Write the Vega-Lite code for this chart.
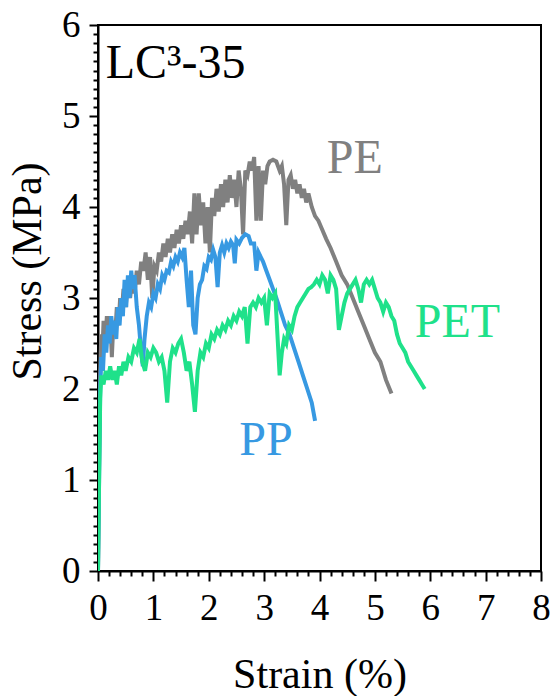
{
  "$schema": "https://vega.github.io/schema/vega-lite/v6.json",
  "width": 443,
  "height": 546,
  "autosize": {"type": "none"},
  "padding": {"left": 98, "top": 25, "right": 12, "bottom": 125},
  "background": "white",
  "view": {"stroke": "black", "strokeWidth": 2},
  "config": {
    "axis": {
      "domainColor": "black", "domainWidth": 2, "tickColor": "black", "tickWidth": 2,
      "labelColor": "black", "titleColor": "black", "labelFont": "Liberation Serif",
      "titleFont": "Liberation Serif", "titleFontWeight": "normal", "grid": false,
      "labelFontSize": 37, "titleFontSize": 42, "labelOverlap": false, "labelFlush": false
    }
  },
  "resolve": {"axis": {"x": "independent", "y": "independent"}},
  "datasets": {
    "curves": [
      {"s":"PE","x":0,"y":0},{"s":"PE","x":0.02,"y":1.2},{"s":"PE","x":0.04,"y":2.2},{"s":"PE","x":0.06,"y":2.6},{"s":"PE","x":0.08,"y":2.4},{"s":"PE","x":0.10,"y":2.75},{"s":"PE","x":0.13,"y":2.5},{"s":"PE","x":0.16,"y":2.8},{"s":"PE","x":0.19,"y":2.55},{"s":"PE","x":0.22,"y":2.8},{"s":"PE","x":0.25,"y":2.35},{"s":"PE","x":0.28,"y":2.75},{"s":"PE","x":0.31,"y":2.6},{"s":"PE","x":0.34,"y":2.9},{"s":"PE","x":0.37,"y":2.7},{"s":"PE","x":0.40,"y":3.0},{"s":"PE","x":0.43,"y":2.85},{"s":"PE","x":0.46,"y":3.1},{"s":"PE","x":0.50,"y":2.9},{"s":"PE","x":0.54,"y":3.2},{"s":"PE","x":0.58,"y":3.0},{"s":"PE","x":0.62,"y":3.25},{"s":"PE","x":0.66,"y":3.05},{"s":"PE","x":0.70,"y":3.3},{"s":"PE","x":0.74,"y":3.15},{"s":"PE","x":0.78,"y":3.4},{"s":"PE","x":0.82,"y":3.3},{"s":"PE","x":0.86,"y":3.5},{"s":"PE","x":0.90,"y":3.2},{"s":"PE","x":0.94,"y":3.45},{"s":"PE","x":0.98,"y":3.0},{"s":"PE","x":1.02,"y":3.35},{"s":"PE","x":1.06,"y":3.3},{"s":"PE","x":1.10,"y":3.5},{"s":"PE","x":1.14,"y":3.4},{"s":"PE","x":1.18,"y":3.6},{"s":"PE","x":1.22,"y":3.45},{"s":"PE","x":1.26,"y":3.65},{"s":"PE","x":1.30,"y":3.5},{"s":"PE","x":1.34,"y":3.7},{"s":"PE","x":1.38,"y":3.55},{"s":"PE","x":1.42,"y":3.75},{"s":"PE","x":1.46,"y":3.6},{"s":"PE","x":1.50,"y":3.8},{"s":"PE","x":1.54,"y":3.65},{"s":"PE","x":1.58,"y":3.85},{"s":"PE","x":1.62,"y":3.7},{"s":"PE","x":1.66,"y":3.95},{"s":"PE","x":1.70,"y":3.6},{"s":"PE","x":1.74,"y":4.15},{"s":"PE","x":1.78,"y":3.7},{"s":"PE","x":1.82,"y":4.15},{"s":"PE","x":1.86,"y":3.8},{"s":"PE","x":1.90,"y":4.05},{"s":"PE","x":1.94,"y":3.6},{"s":"PE","x":1.98,"y":4.0},{"s":"PE","x":2.02,"y":3.5},{"s":"PE","x":2.06,"y":4.1},{"s":"PE","x":2.10,"y":3.9},{"s":"PE","x":2.14,"y":4.2},{"s":"PE","x":2.18,"y":3.95},{"s":"PE","x":2.22,"y":4.25},{"s":"PE","x":2.26,"y":4.0},{"s":"PE","x":2.30,"y":4.3},{"s":"PE","x":2.34,"y":4.05},{"s":"PE","x":2.38,"y":4.35},{"s":"PE","x":2.42,"y":4.1},{"s":"PE","x":2.46,"y":4.3},{"s":"PE","x":2.50,"y":4.0},{"s":"PE","x":2.54,"y":4.4},{"s":"PE","x":2.58,"y":4.2},{"s":"PE","x":2.62,"y":3.7},{"s":"PE","x":2.66,"y":4.4},{"s":"PE","x":2.70,"y":4.35},{"s":"PE","x":2.74,"y":4.5},{"s":"PE","x":2.78,"y":4.4},{"s":"PE","x":2.82,"y":4.55},{"s":"PE","x":2.86,"y":3.85},{"s":"PE","x":2.90,"y":4.45},{"s":"PE","x":2.94,"y":3.85},{"s":"PE","x":2.98,"y":4.4},{"s":"PE","x":3.02,"y":4.25},{"s":"PE","x":3.06,"y":4.45},{"s":"PE","x":3.10,"y":4.5},{"s":"PE","x":3.16,"y":4.52},{"s":"PE","x":3.22,"y":4.5},{"s":"PE","x":3.28,"y":4.4},{"s":"PE","x":3.32,"y":4.45},{"s":"PE","x":3.36,"y":4.25},{"s":"PE","x":3.40,"y":3.8},{"s":"PE","x":3.44,"y":4.3},{"s":"PE","x":3.48,"y":4.35},{"s":"PE","x":3.52,"y":4.2},{"s":"PE","x":3.56,"y":4.3},{"s":"PE","x":3.60,"y":4.15},{"s":"PE","x":3.64,"y":4.25},{"s":"PE","x":3.68,"y":4.1},{"s":"PE","x":3.72,"y":4.2},{"s":"PE","x":3.76,"y":4.05},{"s":"PE","x":3.80,"y":4.15},{"s":"PE","x":3.86,"y":4.0},{"s":"PE","x":3.92,"y":3.9},{"s":"PE","x":3.98,"y":3.85},{"s":"PE","x":4.05,"y":3.75},{"s":"PE","x":4.12,"y":3.65},{"s":"PE","x":4.20,"y":3.55},{"s":"PE","x":4.30,"y":3.4},{"s":"PE","x":4.40,"y":3.25},{"s":"PE","x":4.50,"y":3.15},{"s":"PE","x":4.60,"y":3.0},{"s":"PE","x":4.70,"y":2.85},{"s":"PE","x":4.80,"y":2.7},{"s":"PE","x":4.90,"y":2.55},{"s":"PE","x":5.00,"y":2.4},{"s":"PE","x":5.10,"y":2.3},{"s":"PE","x":5.20,"y":2.1},{"s":"PE","x":5.30,"y":1.95},
      {"s":"PP","x":0,"y":0},{"s":"PP","x":0.02,"y":1.0},{"s":"PP","x":0.04,"y":2.0},{"s":"PP","x":0.06,"y":2.35},{"s":"PP","x":0.09,"y":2.2},{"s":"PP","x":0.12,"y":2.6},{"s":"PP","x":0.15,"y":2.4},{"s":"PP","x":0.18,"y":2.7},{"s":"PP","x":0.21,"y":2.5},{"s":"PP","x":0.24,"y":2.8},{"s":"PP","x":0.27,"y":2.6},{"s":"PP","x":0.30,"y":2.75},{"s":"PP","x":0.33,"y":2.55},{"s":"PP","x":0.36,"y":2.9},{"s":"PP","x":0.39,"y":2.7},{"s":"PP","x":0.42,"y":3.0},{"s":"PP","x":0.45,"y":2.8},{"s":"PP","x":0.48,"y":3.2},{"s":"PP","x":0.51,"y":2.9},{"s":"PP","x":0.54,"y":3.25},{"s":"PP","x":0.57,"y":3.0},{"s":"PP","x":0.60,"y":3.3},{"s":"PP","x":0.63,"y":3.1},{"s":"PP","x":0.66,"y":3.25},{"s":"PP","x":0.70,"y":2.9},{"s":"PP","x":0.74,"y":2.7},{"s":"PP","x":0.78,"y":2.4},{"s":"PP","x":0.81,"y":2.25},{"s":"PP","x":0.84,"y":2.55},{"s":"PP","x":0.88,"y":2.8},{"s":"PP","x":0.92,"y":2.95},{"s":"PP","x":0.96,"y":2.9},{"s":"PP","x":1.00,"y":3.05},{"s":"PP","x":1.04,"y":3.0},{"s":"PP","x":1.08,"y":3.15},{"s":"PP","x":1.12,"y":3.1},{"s":"PP","x":1.16,"y":3.25},{"s":"PP","x":1.20,"y":3.2},{"s":"PP","x":1.24,"y":3.3},{"s":"PP","x":1.28,"y":3.28},{"s":"PP","x":1.32,"y":3.4},{"s":"PP","x":1.36,"y":3.35},{"s":"PP","x":1.40,"y":3.45},{"s":"PP","x":1.44,"y":3.4},{"s":"PP","x":1.48,"y":3.5},{"s":"PP","x":1.52,"y":3.45},{"s":"PP","x":1.56,"y":3.55},{"s":"PP","x":1.60,"y":3.2},{"s":"PP","x":1.64,"y":2.9},{"s":"PP","x":1.68,"y":3.3},{"s":"PP","x":1.72,"y":2.7},{"s":"PP","x":1.76,"y":2.6},{"s":"PP","x":1.80,"y":3.0},{"s":"PP","x":1.84,"y":3.15},{"s":"PP","x":1.88,"y":3.2},{"s":"PP","x":1.92,"y":3.35},{"s":"PP","x":1.96,"y":3.32},{"s":"PP","x":2.00,"y":3.45},{"s":"PP","x":2.04,"y":3.42},{"s":"PP","x":2.08,"y":3.53},{"s":"PP","x":2.12,"y":3.45},{"s":"PP","x":2.16,"y":3.12},{"s":"PP","x":2.20,"y":3.5},{"s":"PP","x":2.24,"y":3.58},{"s":"PP","x":2.28,"y":3.5},{"s":"PP","x":2.32,"y":3.6},{"s":"PP","x":2.36,"y":3.55},{"s":"PP","x":2.40,"y":3.62},{"s":"PP","x":2.44,"y":3.58},{"s":"PP","x":2.47,"y":3.38},{"s":"PP","x":2.50,"y":3.64},{"s":"PP","x":2.55,"y":3.6},{"s":"PP","x":2.60,"y":3.66},{"s":"PP","x":2.66,"y":3.7},{"s":"PP","x":2.72,"y":3.68},{"s":"PP","x":2.76,"y":3.6},{"s":"PP","x":2.82,"y":3.6},{"s":"PP","x":2.86,"y":3.3},{"s":"PP","x":2.90,"y":3.5},{"s":"PP","x":2.94,"y":3.45},{"s":"PP","x":2.98,"y":3.4},{"s":"PP","x":3.04,"y":3.3},{"s":"PP","x":3.10,"y":3.2},{"s":"PP","x":3.16,"y":3.1},{"s":"PP","x":3.22,"y":3.0},{"s":"PP","x":3.30,"y":2.85},{"s":"PP","x":3.38,"y":2.7},{"s":"PP","x":3.46,"y":2.6},{"s":"PP","x":3.54,"y":2.45},{"s":"PP","x":3.62,"y":2.3},{"s":"PP","x":3.70,"y":2.15},{"s":"PP","x":3.78,"y":2.0},{"s":"PP","x":3.86,"y":1.85},{"s":"PP","x":3.92,"y":1.65},
      {"s":"PET","x":0,"y":0},{"s":"PET","x":0.02,"y":1.0},{"s":"PET","x":0.04,"y":1.9},{"s":"PET","x":0.06,"y":2.15},{"s":"PET","x":0.10,"y":2.05},{"s":"PET","x":0.14,"y":2.2},{"s":"PET","x":0.18,"y":2.1},{"s":"PET","x":0.22,"y":2.25},{"s":"PET","x":0.26,"y":2.1},{"s":"PET","x":0.30,"y":2.2},{"s":"PET","x":0.34,"y":2.05},{"s":"PET","x":0.38,"y":2.25},{"s":"PET","x":0.42,"y":2.15},{"s":"PET","x":0.46,"y":2.3},{"s":"PET","x":0.50,"y":2.2},{"s":"PET","x":0.55,"y":2.35},{"s":"PET","x":0.60,"y":2.3},{"s":"PET","x":0.65,"y":2.45},{"s":"PET","x":0.70,"y":2.4},{"s":"PET","x":0.75,"y":2.55},{"s":"PET","x":0.80,"y":2.3},{"s":"PET","x":0.85,"y":2.2},{"s":"PET","x":0.90,"y":2.4},{"s":"PET","x":0.95,"y":2.35},{"s":"PET","x":1.00,"y":2.45},{"s":"PET","x":1.05,"y":2.4},{"s":"PET","x":1.10,"y":2.3},{"s":"PET","x":1.15,"y":2.35},{"s":"PET","x":1.20,"y":2.2},{"s":"PET","x":1.25,"y":1.85},{"s":"PET","x":1.30,"y":2.3},{"s":"PET","x":1.35,"y":2.45},{"s":"PET","x":1.40,"y":2.4},{"s":"PET","x":1.45,"y":2.5},{"s":"PET","x":1.50,"y":2.55},{"s":"PET","x":1.55,"y":2.4},{"s":"PET","x":1.60,"y":2.2},{"s":"PET","x":1.65,"y":2.3},{"s":"PET","x":1.70,"y":2.05},{"s":"PET","x":1.75,"y":1.75},{"s":"PET","x":1.80,"y":2.2},{"s":"PET","x":1.85,"y":2.4},{"s":"PET","x":1.90,"y":2.35},{"s":"PET","x":1.95,"y":2.5},{"s":"PET","x":2.00,"y":2.45},{"s":"PET","x":2.05,"y":2.6},{"s":"PET","x":2.10,"y":2.55},{"s":"PET","x":2.15,"y":2.65},{"s":"PET","x":2.20,"y":2.6},{"s":"PET","x":2.25,"y":2.7},{"s":"PET","x":2.30,"y":2.65},{"s":"PET","x":2.35,"y":2.75},{"s":"PET","x":2.40,"y":2.7},{"s":"PET","x":2.45,"y":2.8},{"s":"PET","x":2.50,"y":2.75},{"s":"PET","x":2.55,"y":2.85},{"s":"PET","x":2.60,"y":2.8},{"s":"PET","x":2.65,"y":2.9},{"s":"PET","x":2.70,"y":2.5},{"s":"PET","x":2.75,"y":2.9},{"s":"PET","x":2.80,"y":2.95},{"s":"PET","x":2.85,"y":2.9},{"s":"PET","x":2.90,"y":3.0},{"s":"PET","x":2.95,"y":2.95},{"s":"PET","x":3.00,"y":3.0},{"s":"PET","x":3.05,"y":2.7},{"s":"PET","x":3.10,"y":3.05},{"s":"PET","x":3.15,"y":3.0},{"s":"PET","x":3.20,"y":3.05},{"s":"PET","x":3.24,"y":2.6},{"s":"PET","x":3.28,"y":2.15},{"s":"PET","x":3.32,"y":2.4},{"s":"PET","x":3.36,"y":2.55},{"s":"PET","x":3.40,"y":2.5},{"s":"PET","x":3.45,"y":2.7},{"s":"PET","x":3.50,"y":2.65},{"s":"PET","x":3.55,"y":2.8},{"s":"PET","x":3.60,"y":2.9},{"s":"PET","x":3.65,"y":2.95},{"s":"PET","x":3.70,"y":3.0},{"s":"PET","x":3.75,"y":3.05},{"s":"PET","x":3.80,"y":3.1},{"s":"PET","x":3.85,"y":3.12},{"s":"PET","x":3.90,"y":3.15},{"s":"PET","x":3.95,"y":3.2},{"s":"PET","x":4.00,"y":3.15},{"s":"PET","x":4.05,"y":3.25},{"s":"PET","x":4.10,"y":3.2},{"s":"PET","x":4.15,"y":3.05},{"s":"PET","x":4.20,"y":3.25},{"s":"PET","x":4.25,"y":3.2},{"s":"PET","x":4.30,"y":3.1},{"s":"PET","x":4.35,"y":2.65},{"s":"PET","x":4.40,"y":2.8},{"s":"PET","x":4.45,"y":2.95},{"s":"PET","x":4.50,"y":3.05},{"s":"PET","x":4.55,"y":3.1},{"s":"PET","x":4.60,"y":3.15},{"s":"PET","x":4.65,"y":3.2},{"s":"PET","x":4.70,"y":3.1},{"s":"PET","x":4.75,"y":2.95},{"s":"PET","x":4.80,"y":3.15},{"s":"PET","x":4.85,"y":3.2},{"s":"PET","x":4.90,"y":3.15},{"s":"PET","x":4.95,"y":3.2},{"s":"PET","x":5.00,"y":3.1},{"s":"PET","x":5.05,"y":3.0},{"s":"PET","x":5.10,"y":2.95},{"s":"PET","x":5.15,"y":2.85},{"s":"PET","x":5.20,"y":2.95},{"s":"PET","x":5.25,"y":2.9},{"s":"PET","x":5.30,"y":2.8},{"s":"PET","x":5.35,"y":2.75},{"s":"PET","x":5.40,"y":2.6},{"s":"PET","x":5.45,"y":2.5},{"s":"PET","x":5.50,"y":2.45},{"s":"PET","x":5.55,"y":2.4},{"s":"PET","x":5.60,"y":2.3},{"s":"PET","x":5.65,"y":2.25},{"s":"PET","x":5.70,"y":2.2},{"s":"PET","x":5.75,"y":2.15},{"s":"PET","x":5.80,"y":2.1},{"s":"PET","x":5.85,"y":2.05},{"s":"PET","x":5.90,"y":2.0}
    ],
    "labels": [
      {"s":"PE","t":"PE","x":4.13,"y":4.37},
      {"s":"PET","t":"PET","x":5.72,"y":2.57},
      {"s":"PP","t":"PP","x":2.55,"y":1.27}
    ],
    "title": [
      {"t":"LC³-35","x":0.14,"y":5.42}
    ]
  },
  "layer": [
    {
      "data": {"name": "curves"},
      "mark": {"type": "line", "strokeWidth": 4, "clip": true},
      "encoding": {
        "x": {
          "field": "x", "type": "quantitative", "title": "Strain (%)",
          "scale": {"domain": [0, 8], "nice": false, "zero": false},
          "axis": {
            "orient": "bottom",
            "values": [0,1,2,3,4,5,6,7,8],
            "format": "d",
            "tickSize": 10,
            "labelPadding": 9,
            "titlePadding": 28
          }
        },
        "y": {
          "field": "y", "type": "quantitative", "title": "Stress (MPa)",
          "scale": {"domain": [0, 6], "nice": false, "zero": false},
          "axis": {
            "orient": "left",
            "values": [0,1,2,3,4,5,6],
            "format": "d",
            "tickSize": 9,
            "labelPadding": 9,
            "titlePadding": 12,
            "titleY": 246
          }
        },
        "color": {
          "field": "s", "type": "nominal", "legend": null,
          "scale": {"domain": ["PE", "PP", "PET"], "range": ["#808080", "#3799e2", "#1fe18a"]}
        }
      }
    },
    {
      "data": {"name": "labels"},
      "mark": {"type": "text", "font": "Liberation Serif", "fontSize": 48, "align": "left", "baseline": "alphabetic"},
      "encoding": {
        "x": {
          "field": "x", "type": "quantitative",
          "axis": {
            "orient": "bottom", "title": null, "labels": false, "domain": false, "tickSize": 5,
            "values": [0.2,0.4,0.6,0.8,1.2,1.4,1.6,1.8,2.2,2.4,2.6,2.8,3.2,3.4,3.6,3.8,4.2,4.4,4.6,4.8,5.2,5.4,5.6,5.8,6.2,6.4,6.6,6.8,7.2,7.4,7.6,7.8]
          }
        },
        "y": {
          "field": "y", "type": "quantitative",
          "axis": {
            "orient": "left", "title": null, "labels": false, "domain": false, "tickSize": 5,
            "values": [0.1,0.2,0.3,0.4,0.5,0.6,0.7,0.8,0.9,1.1,1.2,1.3,1.4,1.5,1.6,1.7,1.8,1.9,2.1,2.2,2.3,2.4,2.5,2.6,2.7,2.8,2.9,3.1,3.2,3.3,3.4,3.5,3.6,3.7,3.8,3.9,4.1,4.2,4.3,4.4,4.5,4.6,4.7,4.8,4.9,5.1,5.2,5.3,5.4,5.5,5.6,5.7,5.8,5.9]
          }
        },
        "text": {"field": "t"},
        "color": {"field": "s", "type": "nominal", "legend": null}
      }
    },
    {
      "data": {"name": "title"},
      "mark": {"type": "text", "font": "Liberation Serif", "fontSize": 48, "align": "left", "baseline": "alphabetic", "color": "black"},
      "encoding": {
        "x": {"field": "x", "type": "quantitative", "axis": null},
        "y": {"field": "y", "type": "quantitative", "axis": null},
        "text": {"field": "t"}
      }
    }
  ]
}
